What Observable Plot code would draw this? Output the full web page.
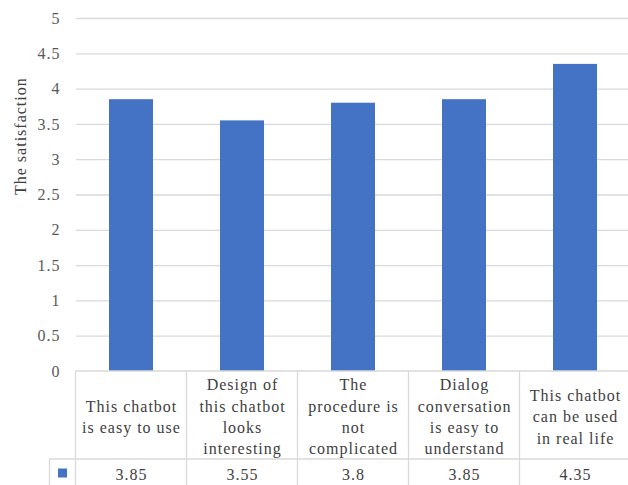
<!DOCTYPE html>
<html>
<head>
<meta charset="utf-8">
<script src="https://cdn.jsdelivr.net/npm/d3@7"></script>
<script src="https://cdn.jsdelivr.net/npm/@observablehq/plot@0.6"></script>
<style>
  html, body { margin: 0; padding: 0; background: #fff; overflow: hidden; }
</style>
</head>
<body>
<div id="chart"></div>
<script>
const categories = [
  "This chatbot\nis easy to use",
  "Design of\nthis chatbot\nlooks\ninteresting",
  "The\nprocedure is\nnot\ncomplicated",
  "Dialog\nconversation\nis easy to\nunderstand",
  "This chatbot\ncan be used\nin real life"
];
const values = [3.85, 3.55, 3.8, 3.85, 4.35];
const valueLabels = ["3.85", "3.55", "3.8", "3.85", "4.35"];
const yTicks = [0, 0.5, 1, 1.5, 2, 2.5, 3, 3.5, 4, 4.5, 5];
const yTitle = "The satisfaction";

const data = categories.map((c, i) => ({cat: c, value: values[i], label: valueLabels[i]}));

const W = 628, H = 485;
const gridColor = "#d9d9d9";
const FONT = "Liberation Serif";

const plot = Plot.plot({
  width: W,
  height: H,
  marginTop: 18,
  marginBottom: 114,
  marginLeft: 76,
  marginRight: 0,
  style: {fontSize: "16px", fontFamily: FONT, color: "#595959", background: "#fff", overflow: "visible"},
  x: {domain: categories, range: [76, 631], paddingInner: 0.6, paddingOuter: 0.3, axis: null},
  y: {domain: [0, 5], ticks: yTicks, label: null},
  marks: [
    Plot.ruleY(yTicks.filter(d => d > 0), {stroke: gridColor, strokeWidth: 1.3}),
    Plot.barY(data, {x: "cat", y: "value", fill: "#4472C4"}),
    Plot.axisY(yTicks, {tickSize: 0, tickPadding: 16, tickFormat: d => String(d), fill: "#595959", fontSize: 16, label: null}),
    Plot.text([yTitle], {frameAnchor: "left", rotate: -90, dx: -56, fill: "#404040", fontSize: 16}),
    Plot.text(data, {x: "cat", y: 0, text: "cat", dy: 44, lineHeight: 1.33, fill: "#404040", fontSize: 16}),
    Plot.text(data, {x: "cat", y: 0, text: "label", dy: 103, fill: "#404040", fontSize: 16})
  ]
});

document.getElementById("chart").appendChild(plot);

const svg = d3.select(plot);
svg.attr("font-family", FONT);
svg.selectAll("text, tspan").attr("font-family", FONT).style("font-family", FONT).style("letter-spacing", "1px");

// Data table grid built from the plot's own scales
const xs = plot.scale("x");
const ys = plot.scale("y");
const step = xs.step;
const bw = xs.bandwidth;
const y0 = ys.apply(0);
const rowSplit = y0 + 88;
const g = svg.append("g").attr("stroke", gridColor).attr("stroke-width", 1.3);
const bounds = categories.map(c => xs.apply(c) + bw / 2 - step / 2);
bounds.push(xs.apply(categories[categories.length - 1]) + bw / 2 + step / 2);
const left = bounds[0];
const legendLeft = left - 26;
g.append("line").attr("x1", left).attr("x2", W).attr("y1", y0).attr("y2", y0);
g.append("line").attr("x1", legendLeft).attr("x2", W).attr("y1", rowSplit).attr("y2", rowSplit);
bounds.forEach(b => g.append("line").attr("x1", b).attr("x2", b).attr("y1", y0).attr("y2", H));
g.append("line").attr("x1", legendLeft).attr("x2", legendLeft).attr("y1", rowSplit).attr("y2", H);
const keySize = 9;
svg.append("rect")
  .attr("x", (legendLeft + left) / 2 - keySize / 2)
  .attr("y", (rowSplit + H) / 2 - keySize / 2 + 1)
  .attr("width", keySize).attr("height", keySize)
  .attr("fill", "#4472C4");
</script>
</body>
</html>
